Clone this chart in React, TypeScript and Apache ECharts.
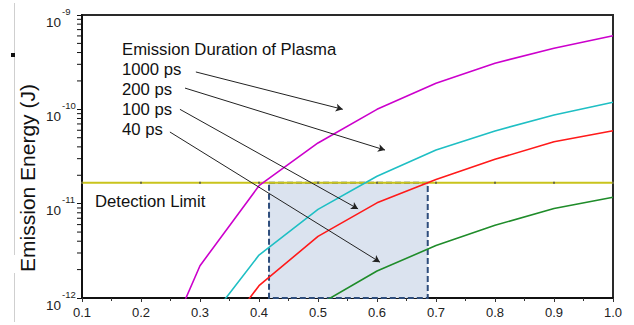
import React, { useEffect, useRef } from "react";
import * as echarts from "echarts";

// ---- data ----
const xTicks = [0.1, 0.2, 0.3, 0.4, 0.5, 0.6, 0.7, 0.8, 0.9, 1.0];
const yDecades = [1e-12, 1e-11, 1e-10, 1e-9];

const x1000 = [0.2, 0.3, 0.4, 0.5, 0.6, 0.7, 0.8, 0.9, 1.0];
const e1000 = [8e-14, 2.2e-12, 1.55e-11, 4.4e-11, 1.0e-10, 1.89e-10, 3.08e-10, 4.44e-10, 6.03e-10];

const x200 = [0.3, 0.4, 0.5, 0.6, 0.7, 0.8, 0.9, 1.0];
const e200 = [4.4e-13, 2.85e-12, 8.7e-12, 1.95e-11, 3.7e-11, 5.9e-11, 8.7e-11, 1.19e-10];

const x100 = [0.3, 0.4, 0.5, 0.6, 0.7, 0.8, 0.9, 1.0];
const e100 = [2e-13, 1.35e-12, 4.5e-12, 1.02e-11, 1.8e-11, 2.95e-11, 4.53e-11, 5.93e-11];

const x40 = [0.5, 0.6, 0.7, 0.8, 0.9, 1.0];
const e40 = [8.4e-13, 1.93e-12, 3.6e-12, 5.9e-12, 8.9e-12, 1.17e-11];

const detectionLimit = 1.67e-11;
const windowX = [0.417, 0.686];

const durationLabels = ["1000 ps", "200 ps", "100 ps", "40 ps"];
const legendTitle = "Emission Duration of Plasma";
const detectionText = "Detection Limit";
const yName = "Emission Energy (J)";

// arrow annotations (data coordinates)
const arrowFrom = [
  [0.293, 2.49e-10],
  [0.2746, 1.68e-10],
  [0.266, 1.0e-10],
  [0.249, 5.75e-11],
];
const arrowTo = [
  [0.542, 1.0e-10],
  [0.6136, 3.7e-11],
  [0.568, 8.8e-12],
  [0.605, 2.4e-12],
];

const FONT = "'Liberation Sans', Arial, sans-serif";

const zip = (xs: number[], ys: number[]) => xs.map((x, i) => [x, ys[i]]);

// minor log ticks (2..9 within each decade)
const minorTicks: number[][] = [];
for (let d = 0; d < yDecades.length - 1; d++) {
  for (let k = 2; k <= 9; k++) minorTicks.push([0.1, k * yDecades[d]]);
}

export default function App() {
  const ref = useRef<HTMLDivElement>(null);

  useEffect(() => {
    if (!ref.current) return;
    const chart = echarts.init(ref.current, undefined, { renderer: "svg" });

    const lineSeries = (name: string, xs: number[], ys: number[], color: string, width = 1.6) => ({
      name,
      type: "line",
      data: zip(xs, ys),
      showSymbol: false,
      symbol: "none",
      lineStyle: { color, width },
      itemStyle: { color },
      clip: true,
      z: 3,
      silent: true,
    });

    const option: any = {
      animation: false,
      textStyle: { fontFamily: FONT },
      grid: {
        left: 82,
        top: 15,
        right: 21,
        bottom: 27,
        show: true,
        borderColor: "#2a2a2a",
        borderWidth: 2,
        backgroundColor: "transparent",
      },
      xAxis: {
        type: "value",
        min: 0.1,
        max: 1.0,
        interval: 0.1,
        axisLine: { show: true, lineStyle: { color: "#111", width: 2 } },
        axisTick: { show: true, length: 4, lineStyle: { color: "#333" } },
        minorTick: { show: true, splitNumber: 2, length: 3, lineStyle: { color: "#333" } },
        splitLine: { show: false },
        axisLabel: {
          margin: 8,
          fontSize: 13,
          color: "#222",
          fontFamily: FONT,
          formatter: (v: number) => v.toFixed(1),
        },
      },
      yAxis: {
        type: "log",
        logBase: 10,
        min: yDecades[0],
        max: yDecades[yDecades.length - 1],
        axisLine: { show: true, lineStyle: { color: "#111", width: 2 } },
        axisTick: { show: true, length: 5, lineStyle: { color: "#111" } },
        splitLine: { show: false },
        axisLabel: {
          margin: 36,
          align: "left",
          verticalAlign: "middle",
          color: "#222",
          fontFamily: FONT,
          formatter: (v: number) => `{b|10}{s|${Math.round(Math.log10(v))}}`,
          rich: {
            b: { fontSize: 13.5, color: "#222", fontFamily: FONT, padding: [14, 0, 0, 0] },
            s: { fontSize: 9.5, color: "#222", fontFamily: FONT, padding: [0, 0, 8, 1] },
          },
        },
      },
      series: [
        {
          name: "window",
          type: "line",
          data: [],
          z: 1,
          silent: true,
          markArea: {
            silent: true,
            itemStyle: {
              color: "#dbe3ef",
              borderColor: "#2e4d7c",
              borderWidth: 2,
              borderType: [6, 3],
            },
            data: [[{ coord: [windowX[0], detectionLimit] }, { coord: [windowX[1], yDecades[0]] }]],
          },
        },
        {
          name: "Detection Limit",
          type: "line",
          data: xTicks.map((x) => [x, detectionLimit]),
          showSymbol: true,
          symbol: "rect",
          symbolSize: 2,
          itemStyle: { color: "#6a6a40" },
          lineStyle: { color: "#c9c41c", width: 2 },
          z: 2,
          silent: true,
        },
        lineSeries("1000 ps", x1000, e1000, "#cc00cc"),
        lineSeries("200 ps", x200, e200, "#1fbfc4"),
        lineSeries("100 ps", x100, e100, "#ff1a1a"),
        lineSeries("40 ps", x40, e40, "#1f8c2a"),
        {
          name: "arrows",
          type: "line",
          data: [[1.0, yDecades[yDecades.length - 1]]],
          showSymbol: false,
          lineStyle: { opacity: 0 },
          z: 5,
          silent: true,
          markLine: {
            silent: true,
            symbol: ["none", "arrow"],
            symbolSize: [6, 7],
            label: { show: false },
            lineStyle: { color: "#222", width: 1, type: "solid" },
            data: arrowFrom.map((f, i) => [{ coord: f }, { coord: arrowTo[i] }]),
          },
        },
        {
          name: "minorTicks",
          type: "custom",
          data: minorTicks,
          encode: { x: 0, y: 1 },
          clip: false,
          silent: true,
          z: 6,
          renderItem: (params: any, api: any) => {
            const p = api.coord([api.value(0), api.value(1)]);
            return {
              type: "line",
              shape: { x1: p[0] - 5, y1: p[1], x2: p[0], y2: p[1] },
              style: { stroke: "#111", lineWidth: 1 },
            };
          },
        },
      ],
      graphic: [
        {
          type: "text",
          x: 27,
          y: 178,
          rotation: Math.PI / 2,
          style: {
            text: yName,
            font: `21px ${FONT}`,
            fill: "#111",
            align: "center",
            verticalAlign: "middle",
          },
        },
        {
          type: "text",
          x: 122,
          y: 49.2,
          style: { text: legendTitle, font: `16.7px ${FONT}`, fill: "#111", align: "left", verticalAlign: "middle" },
        },
        ...durationLabels.map((t, i) => ({
          type: "text",
          x: 122,
          y: 69.2 + i * 20,
          style: { text: t, font: `16.7px ${FONT}`, fill: "#111", align: "left", verticalAlign: "middle" },
        })),
        {
          type: "text",
          x: 95,
          y: 201.2,
          style: { text: detectionText, font: `16.7px ${FONT}`, fill: "#111", align: "left", verticalAlign: "middle" },
        },
        {
          type: "line",
          shape: { x1: 14.5, y1: 3, x2: 14.5, y2: 255 },
          style: { stroke: "#cfcfcf", lineWidth: 1 },
        },
        {
          type: "line",
          shape: { x1: 14.5, y1: 273, x2: 14.5, y2: 322 },
          style: { stroke: "#cfcfcf", lineWidth: 1 },
        },
        {
          type: "rect",
          shape: { x: 11, y: 53, width: 4, height: 4 },
          style: { fill: "#111" },
        },
      ],
    };

    chart.setOption(option);
    return () => chart.dispose();
  }, []);

  return (
    <div
      ref={ref}
      style={{ position: "fixed", left: 0, top: 0, width: 634, height: 325, background: "#fff" }}
    />
  );
}
